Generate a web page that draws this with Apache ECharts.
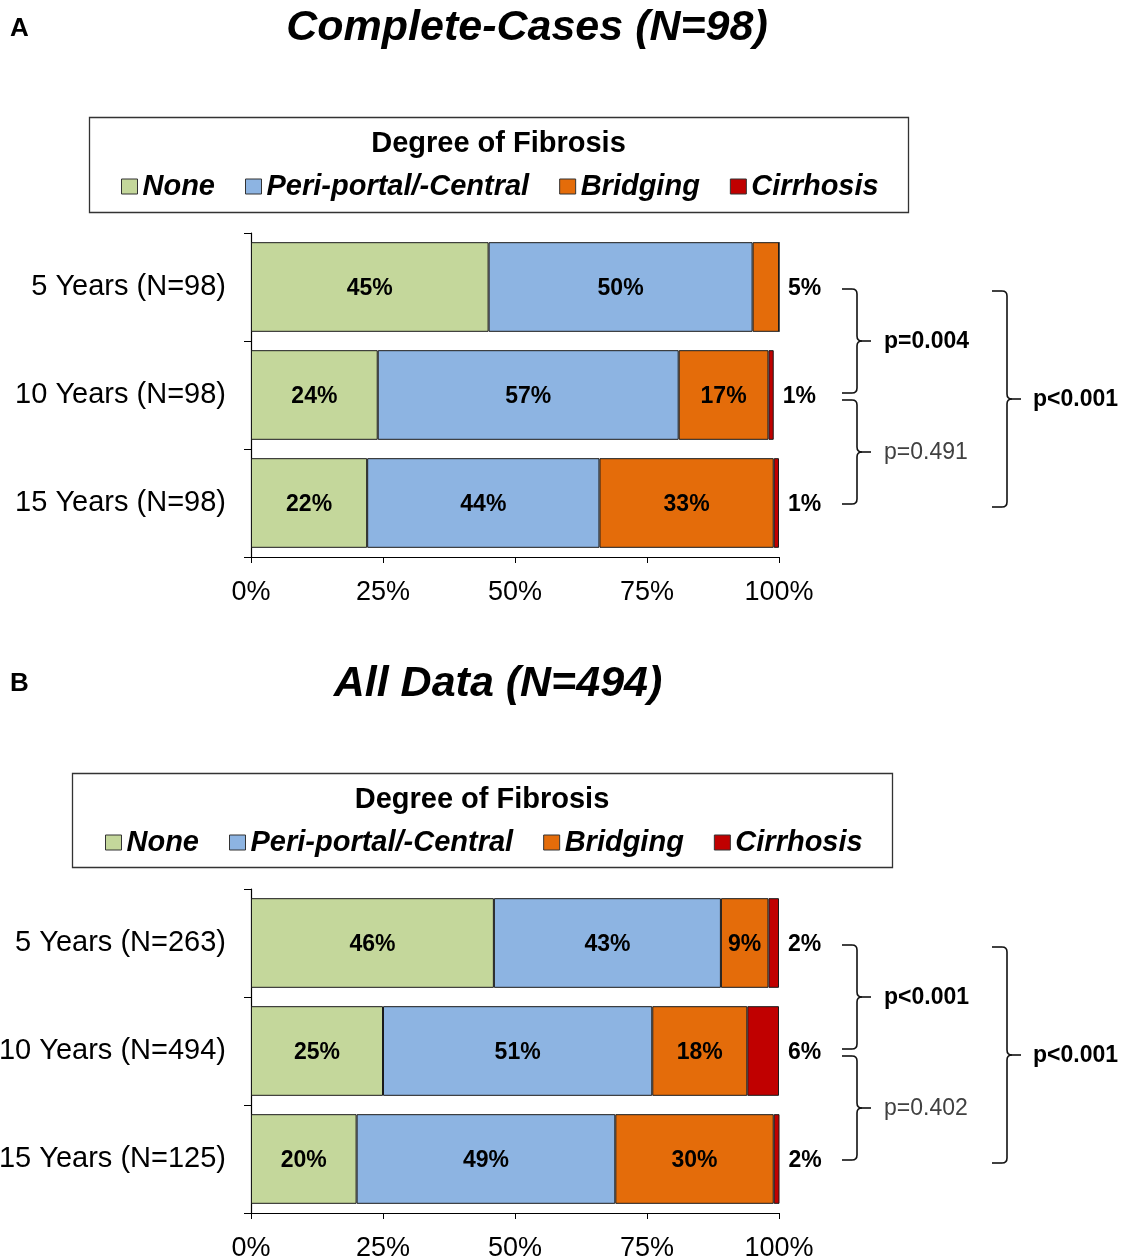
<!DOCTYPE html>
<html>
<head>
<meta charset="utf-8">
<script src="https://cdn.jsdelivr.net/npm/echarts@6/dist/echarts.min.js"></script>
<style>
  html, body { margin: 0; padding: 0; background: #fff; }
  #chart { width: 1126px; height: 1260px; }
</style>
</head>
<body>
<div id="chart"></div>
<script>
// Fibrosis stage distribution by follow-up time (percent of biopsies)
const fibrosisLevels = ['None', 'Peri-portal/-Central', 'Bridging', 'Cirrhosis'];
const levelColors = ['#C4D79B', '#8DB4E2', '#E46C0A', '#C00000'];
const xTickValues = [0, 25, 50, 75, 100];

// Panel A: complete cases
const categoriesA = ['5 Years (N=98)', '10 Years (N=98)', '15 Years (N=98)'];
const noneA = [45, 24, 22];
const periA = [50, 57, 44];
const bridgingA = [5, 17, 33];
const cirrhosisA = [0, 1, 1];
const pLabelsA = ['p=0.004', 'p=0.491', 'p<0.001'];
const pBoldA = [true, false, true];

// Panel B: all data
const categoriesB = ['5 Years (N=263)', '10 Years (N=494)', '15 Years (N=125)'];
const noneB = [46, 25, 20];
const periB = [43, 51, 49];
const bridgingB = [9, 18, 30];
const cirrhosisB = [2, 6, 2];
const pLabelsB = ['p<0.001', 'p=0.402', 'p<0.001'];
const pBoldB = [true, false, true];

const FONT = '"Liberation Sans", Arial, Helvetica, sans-serif';

const panels = [
  { title: 'Complete-Cases (N=98)', letter: 'A', cats: categoriesA,
    values: [noneA, periA, bridgingA, cirrhosisA], pLabels: pLabelsA, pBold: pBoldA,
    gridTop: 233, titleX: 527, titleY: 28, letterY: 29,
    legendBox: { x: 89, y: 117, width: 819, height: 95 }, legendLeft: 121 },
  { title: 'All Data (N=494)', letter: 'B', cats: categoriesB,
    values: [noneB, periB, bridgingB, cirrhosisB], pLabels: pLabelsB, pBold: pBoldB,
    gridTop: 889, titleX: 498, titleY: 684, letterY: 684,
    legendBox: { x: 72, y: 773, width: 820, height: 94 }, legendLeft: 105 }
];

const GRID_LEFT = 251, GRID_WIDTH = 528, GRID_HEIGHT = 324;

const grids = [], xAxes = [], yAxes = [], series = [], legends = [];

panels.forEach((p, pi) => {
  grids.push({ left: GRID_LEFT, top: p.gridTop, width: GRID_WIDTH, height: GRID_HEIGHT,
    containLabel: false, outerBoundsMode: 'none' });
  xAxes.push({
    gridIndex: pi, type: 'value', min: xTickValues[0], max: xTickValues[xTickValues.length - 1],
    interval: xTickValues[1] - xTickValues[0],
    axisLine: { show: true, lineStyle: { color: '#000', width: 1.2 } },
    axisTick: { show: true, length: 6, lineStyle: { color: '#000' } },
    splitLine: { show: false },
    axisLabel: { formatter: '{value}%', color: '#000', fontFamily: FONT, fontSize: 27, margin: 22 }
  });
  yAxes.push({
    gridIndex: pi, type: 'category', data: p.cats, inverse: true,
    axisLine: { show: true, lineStyle: { color: '#000', width: 1.2 } },
    axisTick: { show: true, length: 7, lineStyle: { color: '#000' } },
    axisLabel: { color: '#000', fontFamily: FONT, fontSize: 29, margin: 25, padding: [4, 0, 0, 0] }
  });

  // last non-empty segment of each row carries its label outside the bar
  const lastIdx = p.cats.map((_, r) => {
    let k = -1;
    p.values.forEach((arr, i) => { if (arr[r] > 0) k = i; });
    return k;
  });

  p.values.forEach((arr, i) => {
    series.push({
      name: fibrosisLevels[i], type: 'bar', stack: 'panel' + pi,
      xAxisIndex: pi, yAxisIndex: pi, barCategoryGap: '17%',
      itemStyle: { color: levelColors[i], borderColor: '#1a1a1a', borderWidth: 1 },
      label: {
        show: true, position: 'inside', formatter: '{c}%', color: '#000', offset: [0, 2],
        fontFamily: FONT, fontSize: 23, fontWeight: 'bold'
      },
      emphasis: { disabled: true },
      data: arr.map((v, r) => {
        if (v === 0) return { value: v, label: { show: false } };
        if (lastIdx[r] === i) return { value: v, label: { position: 'right', distance: 9 } };
        return v;
      })
    });
  });

  legends.push({
    data: fibrosisLevels, left: p.legendLeft, top: p.legendBox.y + 55, padding: 0,
    itemGap: 30, itemWidth: 16, itemHeight: 15, icon: 'rect', selectedMode: false,
    itemStyle: { borderColor: '#333', borderWidth: 1 },
    textStyle: { fontFamily: FONT, fontSize: 29, fontWeight: 'bold', fontStyle: 'italic', color: '#000' }
  });
});

const chart = echarts.init(document.getElementById('chart'), null, { renderer: 'canvas' });
chart.setOption({
  animation: false,
  backgroundColor: '#fff',
  grid: grids, xAxis: xAxes, yAxis: yAxes, series: series, legend: legends
});

// Curly bracket built from straight runs and quadratic corners
function bracketParts(x0, x1, x2, top, mid, bot) {
  const r = 5;
  const st = { fill: 'none', stroke: '#111', lineWidth: 1.6 };
  const line = (a, b, c, d) => ({ type: 'line', shape: { x1: a, y1: b, x2: c, y2: d }, style: st });
  const curve = (a, b, cx, cy, c, d) => ({ type: 'bezierCurve',
    shape: { x1: a, y1: b, cpx1: cx, cpy1: cy, x2: c, y2: d }, style: st });
  return [
    line(x0, top, x1 - r, top),
    curve(x1 - r, top, x1, top, x1, top + r),
    line(x1, top + r, x1, mid - r),
    curve(x1, mid - r, x1, mid, x1 + r, mid),
    line(x1 + r, mid, x2, mid),
    curve(x1 + r, mid, x1, mid, x1, mid + r),
    line(x1, mid + r, x1, bot - r),
    curve(x1, bot - r, x1, bot, x1 - r, bot),
    line(x1 - r, bot, x0, bot)
  ];
}

const graphics = [];
panels.forEach((p, pi) => {
  graphics.push({ type: 'text', x: 10, y: p.letterY,
    style: { text: p.letter, font: 'bold 26px ' + FONT, fill: '#000', textVerticalAlign: 'middle' } });
  graphics.push({ type: 'text', x: p.titleX, y: p.titleY,
    style: { text: p.title, font: 'italic bold 43px ' + FONT, fill: '#000',
      textAlign: 'center', textVerticalAlign: 'middle' } });
  const b = p.legendBox;
  graphics.push({ type: 'rect', shape: { x: b.x + 0.5, y: b.y + 0.5, width: b.width, height: b.height },
    style: { fill: 'none', stroke: '#333', lineWidth: 1.3 } });
  graphics.push({ type: 'text', x: b.x + b.width / 2, y: b.y + 27,
    style: { text: 'Degree of Fibrosis', font: 'bold 29px ' + FONT, fill: '#000',
      textAlign: 'center', textVerticalAlign: 'middle' } });

  const xEnd = chart.convertToPixel({ xAxisIndex: pi }, 100);
  const cy = p.cats.map(c => chart.convertToPixel({ yAxisIndex: pi }, c));
  const spans = [
    { top: cy[0] + 2, bot: cy[1] - 2, x0: xEnd + 63, x1: xEnd + 78, x2: xEnd + 92, tx: xEnd + 105 },
    { top: cy[1] + 5, bot: cy[2] + 1, x0: xEnd + 63, x1: xEnd + 78, x2: xEnd + 92, tx: xEnd + 105 },
    { top: cy[0] + 4, bot: cy[2] + 4, x0: xEnd + 213, x1: xEnd + 228, x2: xEnd + 242, tx: xEnd + 254 }
  ];
  spans.forEach((s, k) => {
    const mid = Math.round((s.top + s.bot) / 2);
    bracketParts(s.x0, s.x1, s.x2, s.top, mid, s.bot).forEach(el => graphics.push(el));
    graphics.push({ type: 'text', x: s.tx, y: mid + 1,
      style: { text: p.pLabels[k], font: (p.pBold[k] ? 'bold ' : '') + '23px ' + FONT,
        fill: p.pBold[k] ? '#000' : '#404040', textVerticalAlign: 'middle' } });
  });
});
chart.setOption({ graphic: graphics });
</script>
</body>
</html>
